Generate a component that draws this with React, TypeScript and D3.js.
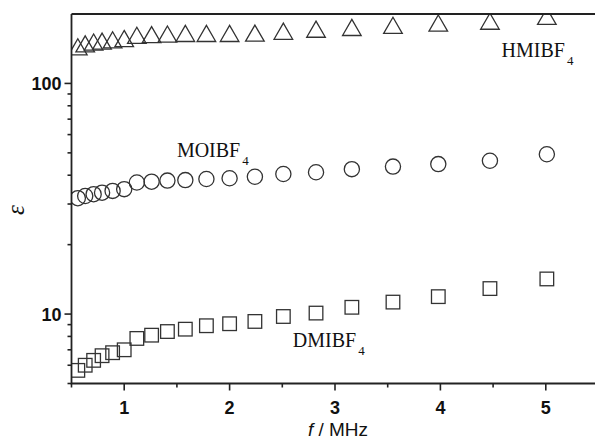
import React, { useEffect, useRef } from "react";
import * as d3 from "d3";

// frequency in MHz (same for all three liquids)
const freq = [0.56, 0.63, 0.71, 0.79, 0.89, 1.0, 1.12, 1.26, 1.41, 1.58, 1.78, 2.0, 2.24, 2.51, 2.82, 3.16, 3.55, 3.98, 4.47, 5.01];
const hmibf4 = [141.7, 145.9, 148.6, 150, 152, 154, 159, 160, 161, 162, 162, 162, 162.5, 165.6, 169, 172, 175.7, 179.7, 183, 192];
const moibf4 = [31.8, 32.5, 33.1, 33.6, 34.2, 34.8, 37.2, 37.5, 37.9, 38.1, 38.5, 38.8, 39.4, 40.5, 41.2, 42.5, 43.6, 44.7, 46.2, 49.3];
const dmibf4 = [5.7, 6.0, 6.3, 6.6, 6.8, 7.0, 7.84, 8.1, 8.4, 8.6, 8.9, 9.08, 9.29, 9.76, 10.1, 10.7, 11.27, 11.9, 12.9, 14.2];

const xTicks = [1, 2, 3, 4, 5];
const xMinor = [0.5, 1.5, 2.5, 3.5, 4.5, 5.5];
const yMajor = [10, 100];
const yMinor = [5, 6, 7, 8, 9, 20, 30, 40, 50, 60, 70, 80, 90];

// label name, x (MHz), y (epsilon)
const labels = [
  { name: "HMIBF", x: 4.58, y: 130 },
  { name: "MOIBF", x: 1.5, y: 48.2 },
  { name: "DMIBF", x: 2.6, y: 7.2 },
];

const App = () => {
  const ref = useRef<SVGSVGElement>(null);

  useEffect(() => {
    const svg = d3.select(ref.current);
    svg.selectAll("*").remove();

    const W = 595;
    const H = 439;
    const left = 71.5;
    const top = 14;
    const bottom = 383.5;
    const x = d3.scaleLinear().domain([0.5, 5.5]).range([left, 598.5]);
    const y = d3.scaleLog().domain([5, 200]).range([bottom, top]);
    const ink = "#333";

    svg.append("rect").attr("width", W).attr("height", H).attr("fill", "#fff");

    svg.append("clipPath").attr("id", "plotclip")
      .append("rect")
      .attr("x", left).attr("y", top)
      .attr("width", 598.5 - left).attr("height", bottom - top);

    const g = svg.append("g").attr("clip-path", "url(#plotclip)");

    const sw = 1.3;

    // triangles
    g.selectAll("path.tri")
      .data(freq.map((f, i) => [f, hmibf4[i]]))
      .enter()
      .append("path")
      .attr("d", d3.symbol().type(d3.symbolTriangle).size(150)())
      .attr("transform", (d) => `translate(${x(d[0])},${y(d[1]) + 1})`)
      .attr("fill", "none").attr("stroke", ink).attr("stroke-width", sw);

    // circles
    g.selectAll("circle")
      .data(freq.map((f, i) => [f, moibf4[i]]))
      .enter()
      .append("circle")
      .attr("cx", (d) => x(d[0]))
      .attr("cy", (d) => y(d[1]))
      .attr("r", 7.6)
      .attr("fill", "none").attr("stroke", ink).attr("stroke-width", sw);

    // squares
    g.selectAll("rect.sq")
      .data(freq.map((f, i) => [f, dmibf4[i]]))
      .enter()
      .append("rect")
      .attr("x", (d) => x(d[0]) - 6.8)
      .attr("y", (d) => y(d[1]) - 6.8)
      .attr("width", 13.6)
      .attr("height", 13.6)
      .attr("fill", "none").attr("stroke", ink).attr("stroke-width", sw);

    // frame (right side falls outside the picture)
    svg.append("path")
      .attr("d", `M${left},${top}H${W + 5}M${left},${top}V${bottom}H${W + 5}`)
      .attr("fill", "none").attr("stroke", "#222").attr("stroke-width", 1.8);

    // x ticks
    svg.selectAll("line.xt")
      .data(xTicks).enter().append("line")
      .attr("x1", (d) => x(d)).attr("x2", (d) => x(d))
      .attr("y1", bottom).attr("y2", bottom + 7)
      .attr("stroke", "#222").attr("stroke-width", 1.6);
    svg.selectAll("line.xm")
      .data(xMinor).enter().append("line")
      .attr("x1", (d) => x(d)).attr("x2", (d) => x(d))
      .attr("y1", bottom).attr("y2", bottom + 4)
      .attr("stroke", "#222").attr("stroke-width", 1.6);
    svg.selectAll("text.xl")
      .data(xTicks).enter().append("text")
      .attr("x", (d) => x(d)).attr("y", 413.5)
      .attr("text-anchor", "middle")
      .style("font-family", "'Liberation Sans', Arial, sans-serif")
      .style("font-weight", "bold").style("font-size", "18px")
      .attr("fill", "#111")
      .text((d) => d);

    // y ticks
    svg.selectAll("line.yt")
      .data(yMajor).enter().append("line")
      .attr("x1", left - 7).attr("x2", left)
      .attr("y1", (d) => y(d)).attr("y2", (d) => y(d))
      .attr("stroke", "#222").attr("stroke-width", 1.6);
    svg.selectAll("line.ym")
      .data(yMinor).enter().append("line")
      .attr("x1", left - 4).attr("x2", left)
      .attr("y1", (d) => y(d)).attr("y2", (d) => y(d))
      .attr("stroke", "#222").attr("stroke-width", 1.6);
    svg.selectAll("text.yl")
      .data(yMajor).enter().append("text")
      .attr("x", left - 10).attr("y", (d) => y(d) + 6.5)
      .attr("text-anchor", "end")
      .style("font-family", "'Liberation Sans', Arial, sans-serif")
      .style("font-weight", "bold").style("font-size", "18px")
      .attr("fill", "#111")
      .text((d) => d);

    // axis titles
    const xt = svg.append("text")
      .attr("x", 338).attr("y", 436)
      .attr("text-anchor", "middle")
      .style("font-family", "'Liberation Sans', Arial, sans-serif")
      .style("font-size", "19px")
      .attr("fill", "#111");
    xt.append("tspan").style("font-style", "italic").text("f");
    xt.append("tspan").text(" / MHz");

    svg.append("text")
      .attr("transform", "translate(24,210) rotate(-90)")
      .attr("text-anchor", "middle")
      .style("font-family", "'Liberation Serif', 'Times New Roman', serif")
      .style("font-style", "italic")
      .style("font-size", "25px")
      .attr("fill", "#111")
      .text("ε");

    // series labels
    labels.forEach((l) => {
      const t = svg.append("text")
        .attr("x", x(l.x)).attr("y", y(l.y))
        .style("font-family", "'Liberation Serif', 'Times New Roman', serif")
        .style("font-size", "20px")
        .attr("fill", "#111");
      t.append("tspan").text(l.name);
      t.append("tspan").attr("dx", 2).attr("dy", 8).style("font-size", "13px").text("4");
    });
  }, []);

  return (
    <svg
      ref={ref}
      width={595}
      height={439}
      style={{ position: "absolute", left: 0, top: 0 }}
    />
  );
};

export default App;
